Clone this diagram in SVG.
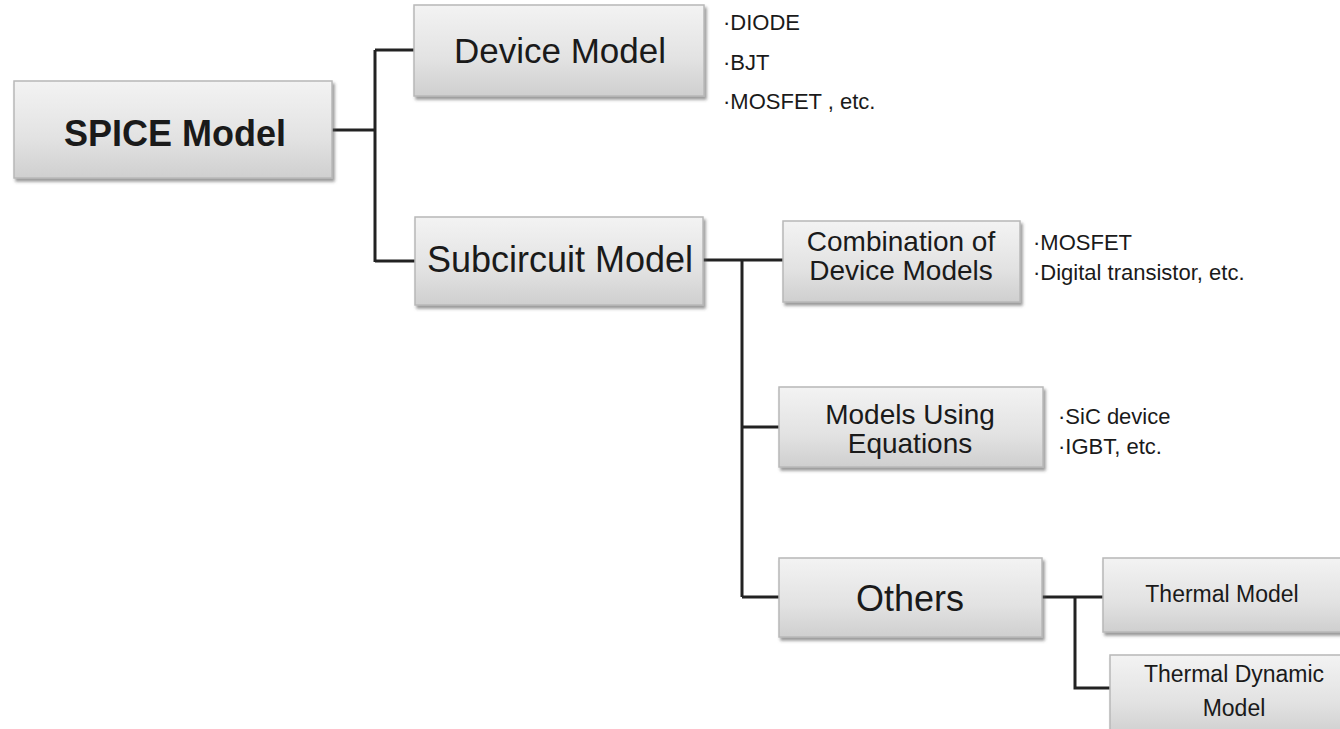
<svg xmlns="http://www.w3.org/2000/svg" width="1340" height="729" viewBox="0 0 1340 729">
<defs>
<linearGradient id="g" x1="0" y1="0" x2="0" y2="1">
<stop offset="0" stop-color="#f3f3f3"/>
<stop offset="0.6" stop-color="#e2e2e2"/>
<stop offset="1" stop-color="#cfcfcf"/>
</linearGradient>
<filter id="sh" x="-5%" y="-10%" width="115%" height="130%">
<feDropShadow dx="2" dy="3" stdDeviation="1.5" flood-color="#555" flood-opacity="0.6"/>
</filter>
<style>
.box{fill:url(#g);stroke:#b8b8b8;stroke-width:1.5;filter:url(#sh)}
.t{font-family:"Liberation Sans",Arial,sans-serif;fill:#1a1a1a;text-anchor:middle}
.b{font-family:"Liberation Sans",Arial,sans-serif;fill:#1a1a1a;font-size:22px}
.ln{stroke:#222;stroke-width:3;fill:none}
</style>
</defs>
<rect width="1340" height="729" fill="#fff"/>
<g id="connectors">
<path class="ln" d="M332,130 H375 M375,50 V262 M375,50 H414 M375,261 H415"/>
<path class="ln" d="M703,260 H783 M742,260 V597 M742,427 H779 M742,597 H779"/>
<path class="ln" d="M1042,597 H1103 M1075,597 V688 H1110"/>
</g>
<g id="spice">
<rect class="box" x="14" y="81" width="318" height="97"/>
<text class="t" x="175" y="146" font-size="36" font-weight="bold">SPICE Model</text>
</g>
<g id="device">
<rect class="box" x="414" y="5" width="290" height="91"/>
<text class="t" x="560" y="63" font-size="35">Device Model</text>
</g>
<g id="device-list">
<text class="b" x="723" y="30">·DIODE</text>
<text class="b" x="723" y="70">·BJT</text>
<text class="b" x="723" y="109">·MOSFET , etc.</text>
</g>
<g id="subcircuit">
<rect class="box" x="415" y="217" width="288" height="88"/>
<text class="t" x="560" y="272" font-size="36">Subcircuit Model</text>
</g>
<g id="combination">
<rect class="box" x="783" y="221" width="237" height="81"/>
<text class="t" x="901" y="251" font-size="28">Combination of</text>
<text class="t" x="901" y="280" font-size="28">Device Models</text>
</g>
<g id="combination-list">
<text class="b" x="1033" y="250">·MOSFET</text>
<text class="b" x="1033" y="280">·Digital transistor, etc.</text>
</g>
<g id="equations">
<rect class="box" x="779" y="387" width="264" height="80"/>
<text class="t" x="910" y="424" font-size="28">Models Using</text>
<text class="t" x="910" y="453" font-size="28">Equations</text>
</g>
<g id="equations-list">
<text class="b" x="1058" y="424">·SiC device</text>
<text class="b" x="1058" y="454">·IGBT, etc.</text>
</g>
<g id="others">
<rect class="box" x="779" y="558" width="263" height="79"/>
<text class="t" x="910" y="611" font-size="36">Others</text>
</g>
<g id="thermal">
<rect class="box" x="1103" y="558" width="245" height="74"/>
<text class="t" x="1222" y="602" font-size="23">Thermal Model</text>
</g>
<g id="thermal-dynamic">
<rect class="box" x="1110" y="655" width="240" height="80"/>
<text class="t" x="1234" y="682" font-size="23">Thermal Dynamic</text>
<text class="t" x="1234" y="716" font-size="23">Model</text>
</g>
</svg>
